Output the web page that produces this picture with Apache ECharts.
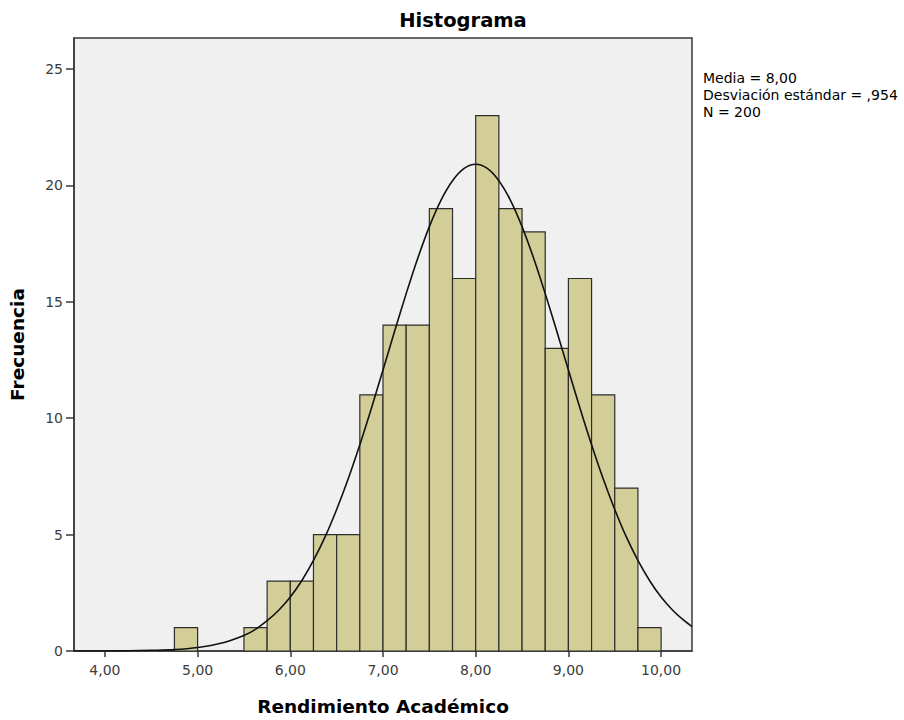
<!DOCTYPE html>
<html>
<head>
<meta charset="utf-8">
<script src="https://cdn.jsdelivr.net/npm/echarts@6/dist/echarts.min.js"></script>
<style>html,body{margin:0;padding:0;background:#fff}#c{width:904px;height:720px}</style>
</head>
<body>
<div id="c"></div>
<script>
// Histogram bins (lower edge of each bin) and frequencies
const binLow = [4.75, 5.50, 5.75, 6.00, 6.25, 6.50, 6.75, 7.00, 7.25, 7.50, 7.75, 8.00, 8.25, 8.50, 8.75, 9.00, 9.25, 9.50, 9.75];
const counts = [1, 1, 3, 3, 5, 5, 11, 14, 14, 19, 16, 23, 19, 18, 13, 16, 11, 7, 1];
const binWidth = 0.25;
// Fitted normal curve (Media 8,00; Desv. ,954)
const curveX = [3.667, 4.00, 4.25, 4.50, 4.75, 5.00, 5.25, 5.50, 5.625, 5.75, 5.875, 6.00, 6.125, 6.25, 6.375, 6.50, 6.625, 6.75, 6.875, 7.00, 7.125, 7.25, 7.375, 7.50, 7.625, 7.75, 7.875, 8.00,
                8.125, 8.25, 8.375, 8.50, 8.625, 8.75, 8.875, 9.00, 9.125, 9.25, 9.375, 9.50, 9.625, 9.75, 9.875, 10.00, 10.125, 10.25, 10.333];
const curveY = [0.00, 0.00, 0.01, 0.03, 0.06, 0.15, 0.33, 0.67, 0.93, 1.30, 1.75, 2.32, 3.03, 3.89, 4.90, 6.08, 7.40, 8.86, 10.43, 12.07, 13.73, 15.35, 16.87, 18.23, 19.36, 20.20, 20.73, 20.91,
                20.73, 20.20, 19.36, 18.23, 16.87, 15.35, 13.73, 12.07, 10.43, 8.86, 7.40, 6.08, 4.90, 3.89, 3.03, 2.32, 1.75, 1.30, 1.05];
// Tick labels
const xTicks = [4, 5, 6, 7, 8, 9, 10];
const yTicks = [0, 5, 10, 15, 20, 25];
const statsLines = ['Media = 8,00', 'Desviación estándar = ,954', 'N = 200'];

const chart = echarts.init(document.getElementById('c'), null, {renderer: 'svg'});
const font = 'DejaVu Sans';
chart.setOption({
  animation: false,
  backgroundColor: '#ffffff',
  title: {
    text: 'Histograma',
    left: 458, top: 5, textAlign: 'center',
    textStyle: {fontFamily: font, fontSize: 19.5, fontWeight: 'bold', color: '#000'}
  },
  graphic: [{
    type: 'text', left: 703, top: 69,
    style: {text: statsLines.join('\n'), font: '14px "DejaVu Sans"', fill: '#000', lineHeight: 17}
  }],
  grid: {left: 74, top: 38, width: 618, height: 613, outerBoundsMode: 'none', containLabel: false,
    show: true, backgroundColor: '#f0f0f0', borderColor: '#3a3a3a', borderWidth: 1.5},
  xAxis: {
    type: 'value', min: 3.6667, max: 10.3333,
    name: 'Rendimiento Académico', nameLocation: 'middle', nameGap: 46,
    nameTextStyle: {fontFamily: font, fontSize: 18.5, fontWeight: 'bold', color: '#000'},
    axisLine: {show: true, lineStyle: {color: '#3a3a3a', width: 1.5}},
    axisTick: {show: true, length: 6, customValues: xTicks, lineStyle: {color: '#3a3a3a', width: 1.5}},
    axisLabel: {customValues: xTicks, margin: 12, fontFamily: font, fontSize: 14, color: '#3c3c3c',
      formatter: v => v.toFixed(2).replace('.', ',')},
    splitLine: {show: false}
  },
  yAxis: {
    type: 'value', min: 0, max: 26.33,
    name: 'Frecuencia', nameLocation: 'middle', nameGap: 47,
    nameTextStyle: {fontFamily: font, fontSize: 18.5, fontWeight: 'bold', color: '#000'},
    axisLine: {show: true, lineStyle: {color: '#3a3a3a', width: 1.5}},
    axisTick: {show: true, length: 8, customValues: yTicks, lineStyle: {color: '#3a3a3a', width: 1.5}},
    axisLabel: {customValues: yTicks, margin: 11, fontFamily: font, fontSize: 14, color: '#3c3c3c'},
    splitLine: {show: false}
  },
  series: [{
    type: 'custom',
    data: binLow.map((b, i) => [b, b + binWidth, counts[i]]),
    renderItem: function (params, api) {
      const p0 = api.coord([api.value(0), api.value(2)]);
      const p1 = api.coord([api.value(1), 0]);
      return {
        type: 'rect',
        shape: {x: p0[0], y: p0[1], width: p1[0] - p0[0], height: p1[1] - p0[1]},
        style: {fill: '#d3ce97', stroke: '#2e2e2e', lineWidth: 1.2}
      };
    },
    encode: {x: [0, 1], y: 2}
  }, {
    type: 'line',
    data: curveX.map((x, i) => [x, curveY[i]]),
    smooth: 0.3, showSymbol: false, symbol: 'none',
    lineStyle: {color: '#111', width: 1.6},
    z: 5
  }]
});
</script>
</body>
</html>
